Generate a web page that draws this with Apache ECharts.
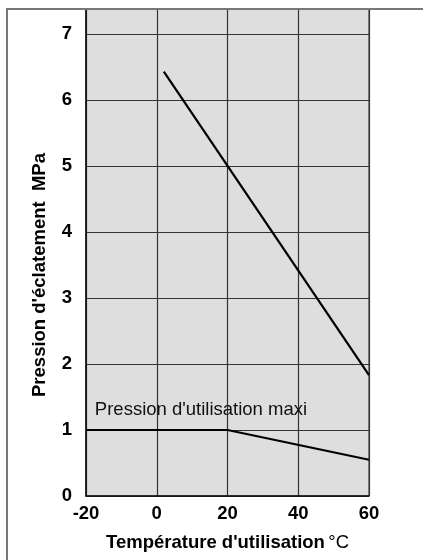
<!DOCTYPE html>
<html>
<head>
<meta charset="utf-8">
<script src="https://cdn.jsdelivr.net/npm/echarts@6/dist/echarts.min.js"></script>
<style>
html,body{margin:0;padding:0;background:#fff;}
#c{width:423px;height:560px;}
</style>
</head>
<body>
<div id="c"></div>
<script>
// Data
const xTicks = [-20, 0, 20, 40, 60];
const yTicks = [0, 1, 2, 3, 4, 5, 6, 7];
const burstTemp = [2, 60];
const burstPressure = [6.43, 1.83];
const maxiTemp = [-20, 20, 60];
const maxiPressure = [1, 1, 0.55];
const xTitle = "Température d'utilisation";
const xUnit = "°C";
const yTitle = "Pression d'éclatement  MPa";
const maxiLabel = "Pression d'utilisation maxi";

const chart = echarts.init(document.getElementById('c'), null, {renderer: 'canvas'});
const FONT = '"Liberation Sans", Arial, Helvetica, sans-serif';
const FS = 18.5;

const zip = (a, b) => a.map((v, i) => [v, b[i]]);

const option = {
  animation: false,
  backgroundColor: '#fff',
  grid: {
    left: 86, right: 54, top: 9, bottom: 64,
    show: true, backgroundColor: '#dedede', borderColor: '#222', borderWidth: 1
  },
  xAxis: {
    type: 'value', min: xTicks[0], max: xTicks[xTicks.length - 1], interval: 20,
    axisLine: {show: true, onZero: false, lineStyle: {color: '#111', width: 1.5}},
    axisTick: {show: false},
    splitLine: {show: true, lineStyle: {color: '#333', width: 1.2}},
    axisLabel: {color: '#000', fontFamily: FONT, fontWeight: 'bold', fontSize: FS, margin: 8},
    name: '{b|' + xTitle + '} {r|' + xUnit + '}',
    nameLocation: 'middle', nameGap: 37,
    nameTextStyle: {
      rich: {
        b: {fontFamily: FONT, fontWeight: 'bold', fontSize: FS, color: '#000'},
        r: {fontFamily: FONT, fontWeight: 'normal', fontSize: FS, color: '#000'}
      }
    }
  },
  yAxis: {
    type: 'value', min: 0, max: 7.38, interval: 1,
    axisLine: {show: true, onZero: false, lineStyle: {color: '#111', width: 1.5}},
    axisTick: {show: false},
    splitLine: {show: true, lineStyle: {color: '#333', width: 1.2}},
    axisLabel: {color: '#000', fontFamily: FONT, fontWeight: 'bold', fontSize: FS, margin: 14,
      showMaxLabel: false,
      formatter: v => (yTicks.indexOf(v) >= 0 ? String(v) : '')}
  },
  series: [
    {type: 'line', data: zip(burstTemp, burstPressure), symbol: 'none',
      lineStyle: {color: '#000', width: 2.2}},
    {type: 'line', data: zip(maxiTemp, maxiPressure), symbol: 'none',
      lineStyle: {color: '#000', width: 2.2}}
  ]
};
chart.setOption(option);

const p = chart.convertToPixel({gridIndex: 0}, [-17.5, 1.3]);
chart.setOption({
  graphic: [
    {type: 'text', x: p[0], y: p[1], style: {text: maxiLabel, fontFamily: FONT, fontSize: FS,
      fill: '#111', verticalAlign: 'middle', align: 'left'}, z: 100},
    {type: 'text', x: 40, y: 275, rotation: Math.PI / 2,
      style: {text: yTitle, fontFamily: FONT, fontSize: FS, fontWeight: 'bold', fill: '#000',
        align: 'center', verticalAlign: 'middle'}},
    {type: 'polyline', shape: {points: [[7, 560], [7, 9], [423, 9]]},
      style: {stroke: '#777', lineWidth: 2, fill: null}, z: 100}
  ]
});
</script>
</body>
</html>
